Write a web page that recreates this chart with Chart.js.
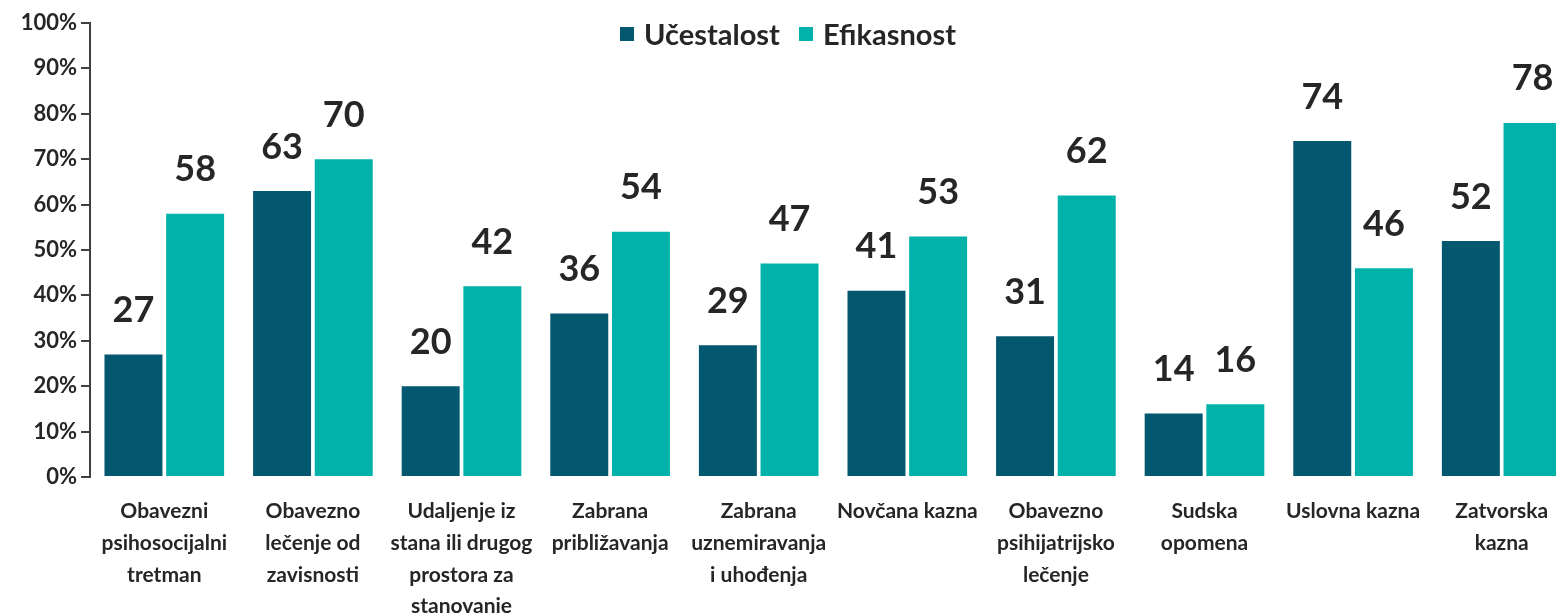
<!DOCTYPE html>
<html>
<head>
<meta charset="utf-8">
<script src="https://cdn.jsdelivr.net/npm/chart.js@4.4.1/dist/chart.umd.min.js"></script>
<style>
  html, body { margin: 0; padding: 0; background: #fff; }
  #wrap { position: relative; width: 1556px; height: 613px; overflow: hidden; }
  #legend { position: absolute; top: 16px; left: 0; width: 1576px; text-align: center;
    font: bold 29px Lato, sans-serif; color: #262626; }
  #legend span.item { margin: 0 6px; white-space: nowrap; }
  #legend span.box { display: inline-block; width: 14px; height: 14px; margin-right: 10px; vertical-align: 4px; }
</style>
</head>
<body>
<div id="wrap">
  <canvas id="chart" width="1576" height="613"></canvas>
  <div id="legend"></div>
</div>
<script>
// --- DATA ---
const categories = [
  ['Obavezni', 'psihosocijalni', 'tretman'],
  ['Obavezno', 'lečenje od', 'zavisnosti'],
  ['Udaljenje iz', 'stana ili drugog', 'prostora za', 'stanovanje'],
  ['Zabrana', 'približavanja'],
  ['Zabrana', 'uznemiravanja', 'i uhođenja'],
  ['Novčana kazna'],
  ['Obavezno', 'psihijatrijsko', 'lečenje'],
  ['Sudska', 'opomena'],
  ['Uslovna kazna'],
  ['Zatvorska', 'kazna']
];
const seriesNames = ['Učestalost', 'Efikasnost'];
const ucestalost = [27, 63, 20, 36, 29, 41, 31, 14, 74, 52];
const efikasnost = [58, 70, 42, 54, 47, 53, 62, 16, 46, 78];
const yTicks = [0, 10, 20, 30, 40, 50, 60, 70, 80, 90, 100];
const colors = ['#03576f', '#00b2aa'];

const TEXT = '#262626';
const FONT = 'Lato, sans-serif';

// --- VALUE LABELS ---
const valueLabels = {
  id: 'valueLabels',
  afterDatasetsDraw(chart) {
    const ctx = chart.ctx;
    ctx.save();
    ctx.font = 'bold 36px ' + FONT;
    ctx.fillStyle = TEXT;
    ctx.textAlign = 'center';
    ctx.textBaseline = 'bottom';
    chart.data.datasets.forEach((ds, i) => {
      chart.getDatasetMeta(i).data.forEach((bar, j) => {
        ctx.fillText(ds.data[j], bar.x, bar.y - 26);
      });
    });
    ctx.restore();
  }
};

// canvas is 20px wider than the window: the last bar runs off the right edge like the original
const chart = new Chart(document.getElementById('chart'), {
  type: 'bar',
  data: {
    labels: categories,
    datasets: [
      { label: seriesNames[0], data: ucestalost, backgroundColor: colors[0] },
      { label: seriesNames[1], data: efikasnost, backgroundColor: colors[1] }
    ]
  },
  options: {
    responsive: false,
    animation: false,
    layout: { padding: { top: 23, right: 0, bottom: 0, left: 0 } },
    datasets: { bar: { categoryPercentage: 0.83, barPercentage: 0.94 } },
    plugins: {
      legend: { display: false },
      tooltip: { enabled: false }
    },
    scales: {
      x: {
        grid: { display: false },
        border: { display: false },
        ticks: {
          color: TEXT,
          font: { family: FONT, size: 21, weight: 'bold', lineHeight: 1.52 },
          maxRotation: 0,
          autoSkip: false,
          padding: 10
        },
        afterFit(scale) { scale.height = 136; }
      },
      y: {
        min: 0,
        max: 100,
        afterBuildTicks(scale) { scale.ticks = yTicks.map(v => ({ value: v })); },
        grid: { drawOnChartArea: false, drawTicks: true, tickLength: 9, color: '#404040', lineWidth: 2 },
        border: { display: true, color: '#404040', width: 2 },
        ticks: {
          color: TEXT,
          font: { family: FONT, size: 22, weight: 'bold' },
          padding: 4,
          callback: v => v + '%'
        },
        afterFit(scale) { scale.width = 90; }
      }
    }
  },
  plugins: [valueLabels]
});

// --- LEGEND ---
document.getElementById('legend').innerHTML = chart.data.datasets.map((ds, i) =>
  `<span class="item"><span class="box" style="background:${colors[i]}"></span>${ds.label}</span>`
).join(' ');
</script>
</body>
</html>
